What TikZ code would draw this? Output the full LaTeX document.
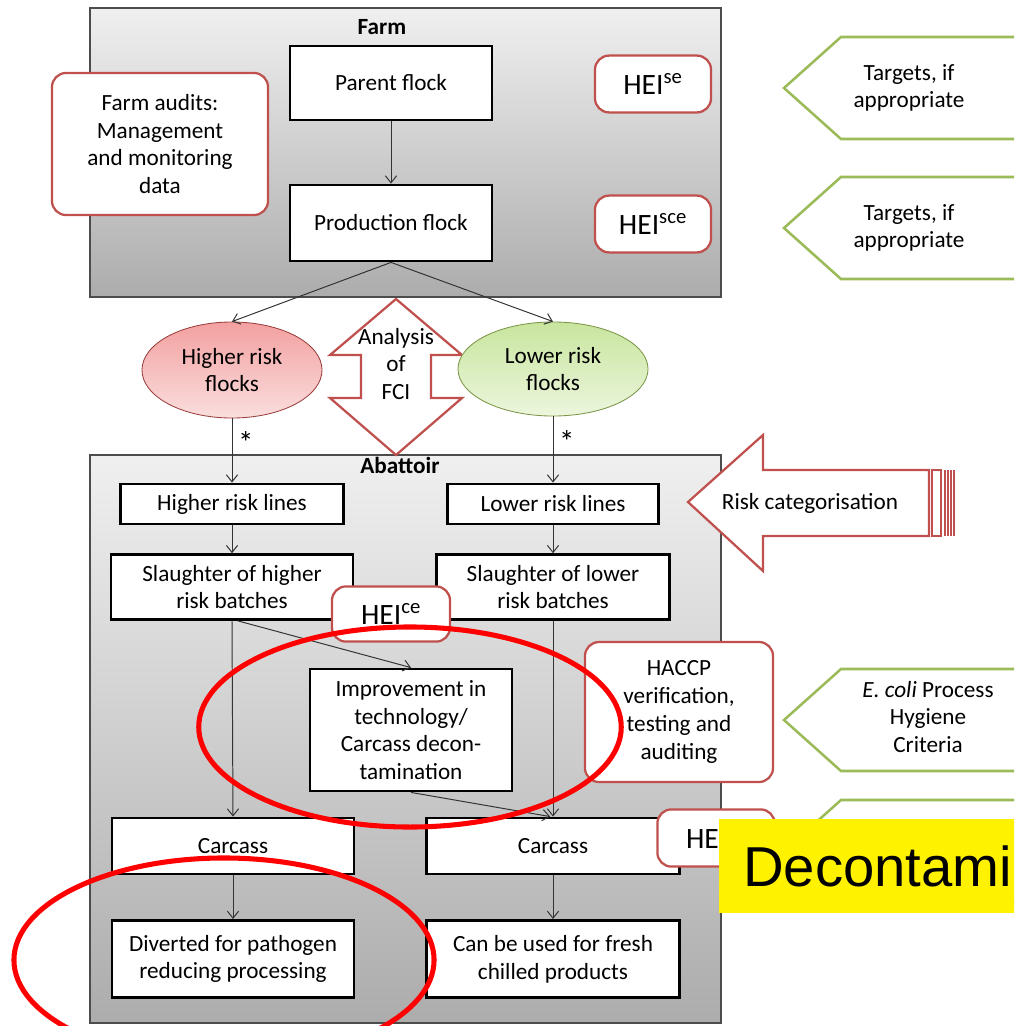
\documentclass[tikz,border=0pt]{standalone}
\usepackage{fontspec}
\setmainfont{Carlito}
\newfontfamily\arialfont{Liberation Sans}
\usepackage{tikz}
\usetikzlibrary{positioning,arrows.meta,shapes.geometric}
\definecolor{notecolor}{HTML}{C0504D}
\definecolor{targetcolor}{HTML}{9BBB59}
\definecolor{highcolor}{HTML}{F3A0A0}
\definecolor{lowcolor}{HTML}{C8E59E}
\definecolor{circlecolor}{HTML}{FF0000}

\begin{document}
\begin{tikzpicture}[x=0.025cm, y=-0.025cm,
    every node/.style={font=\fontsize{16.5}{19.7}\selectfont},
    stagebox/.style={draw=black, line width=2pt, fill=white, align=center, inner sep=2pt},
    notebox/.style={draw=notecolor, line width=1.6pt, fill=white, rounded corners=10pt, align=center},
    heibox/.style={notebox, minimum width=2.9cm, minimum height=1.42cm, font=\fontsize{21}{24}\selectfont},
    flockbox/.style={ellipse, draw, line width=0.6pt, align=center, inner sep=0pt},
    flow/.style={draw=black!80, line width=0.7pt, -{Straight Barb[length=5pt,width=8pt]}},
    target/.style={draw=targetcolor, line width=1.8pt, fill=white},
    bigarrow/.style={draw=notecolor, line width=1.6pt, fill=white, line join=miter},
    stagearea/.style={draw=black!70, line width=0.8pt, top color=gray!12, bottom color=gray!65},
    star/.style={font=\fontsize{22}{22}\selectfont, inner sep=0pt},
    marking/.style={draw=circlecolor, line width=3.6pt}]

    \useasboundingbox (0,0) rectangle (1014,1026);
    \clip (0,0) rectangle (1014,1026);

    % Areas
    \path[stagearea] (90,8) rectangle (721,297);
    \path[stagearea] (90,455) rectangle (721,1023);
    \node[font=\fontsize{16.5}{19.7}\selectfont\bfseries] (farm) at (382,27) {Farm};
    \node[font=\fontsize{16.5}{19.7}\selectfont\bfseries] (abattoir) at (400,465) {Abattoir};

    % Targets
    \foreach \y/\name in {88/tone, 228/ttwo, 720/tthree, 851/tfour} {
        \draw[target] (784,\y) -- (841,\y-51) -- (1030,\y-51) -- (1030,\y+51) -- (841,\y+51) -- cycle;
        \coordinate (\name) at (909,\y);
    }
    \node[align=center] (targetone) at (tone) {Targets, if\\appropriate};
    \node[align=center] (targettwo) at (ttwo) {Targets, if\\appropriate};
    \node[align=center] (ecoli) at (928,717) {\textit{E. coli} Process\\Hygiene\\Criteria};

    % Analysis of FCI
    \draw[bigarrow] (396,299) -- (462,355) -- (431,355) -- (431,398) -- (462,398) -- (396,455)
        -- (330,398) -- (361,398) -- (361,355) -- (330,355) -- cycle;
    \node[align=center] (fci) at (396,364) {Analysis\\of\\FCI};

    % Risk categorisation
    \draw[bigarrow] (688,502) -- (763,435) -- (763,470) -- (929,470) -- (929,536) -- (763,536) -- (763,571) -- cycle;
    \draw[notecolor, line width=1.2pt] (932,470) rectangle (941,536);
    \foreach \x in {945,948,951,954} {
        \draw[notecolor, line width=1.1pt] (\x,470) -- (\x,536);
    }
    \node (riskcat) at (810,503) {Risk categorisation};

    % Farm nodes
    \node[stagebox, minimum width=5.05cm, minimum height=1.85cm] (parent) at (391,83) {Parent flock};
    \node[stagebox, minimum width=5.05cm, minimum height=1.9cm] (production) at (391,223) {Production flock};
    \node[notebox, minimum width=5.4cm, minimum height=3.55cm] (audits) at (160,144) {Farm audits:\\Management\\and monitoring\\data};
    \node[heibox] (heise) at (653,84) {HEI\textsuperscript{se}};
    \node[heibox] (heisce) at (653,224) {HEI\textsuperscript{sce}};

    % Flocks
    \node[flockbox, draw=notecolor!80!black, top color=highcolor, bottom color=highcolor!35!white,
          minimum width=4.5cm, minimum height=2.4cm] (higher) at (232,370) {Higher risk\\flocks};
    \node[flockbox, draw=targetcolor!80!black, top color=lowcolor, bottom color=lowcolor!35!white,
          minimum width=4.75cm, minimum height=2.35cm] (lower) at (553,369) {Lower risk\\flocks};

    % Abattoir nodes
    \node[stagebox, minimum width=5.58cm, minimum height=1.0cm] (hlines) at (232,504) {Higher risk lines};
    \node[stagebox, minimum width=5.28cm, minimum height=1.0cm] (llines) at (553,504) {Lower risk lines};
    \node[stagebox, minimum width=6.05cm, minimum height=1.62cm] (hslaughter) at (232,587) {Slaughter of higher\\risk batches};
    \node[stagebox, minimum width=5.83cm, minimum height=1.62cm] (lslaughter) at (553,587) {Slaughter of lower\\risk batches};
    \node[heibox, minimum width=2.95cm, minimum height=1.38cm] (heice) at (391,614) {HEI\textsuperscript{ce}};
    \node[stagebox, minimum width=5.05cm, minimum height=3.05cm] (improve) at (411,730) {Improvement in\\technology/\\Carcass decon-\\tamination};
    \node[notebox, minimum width=4.7cm, minimum height=3.5cm] (haccp) at (679,712) {HACCP\\verification,\\testing and\\auditing};
    \node[stagebox, minimum width=6.05cm, minimum height=1.4cm] (hcarcass) at (233,846) {Carcass};
    \node[stagebox, minimum width=6.33cm, minimum height=1.4cm] (lcarcass) at (553,846) {Carcass};
    \node[heibox, minimum width=2.93cm, minimum height=1.43cm] (heilast) at (716,838) {HE\phantom{I\textsuperscript{ce}}};
    \node[stagebox, minimum width=6.05cm, minimum height=1.93cm] (diverted) at (233,959) {Diverted for pathogen\\reducing processing};
    \node[stagebox, minimum width=6.33cm, minimum height=1.93cm] (fresh) at (553,959) {Can be used for fresh\\chilled products};

    % Links
    \draw[flow] (parent) -- (production);
    \draw[flow] (production.south) -- (higher.north);
    \draw[flow] (production.south) -- (lower.north);
    \draw[flow] (higher.south) -- node[pos=0.38, right=4pt, star] (hstar) {*} (hlines.north);
    \draw[flow] (lower.south) -- node[pos=0.38, right=4pt, star] (lstar) {*} (llines.north);
    \draw[flow] (hlines) -- (hslaughter);
    \draw[flow] (llines) -- (lslaughter);
    \draw[flow] (hslaughter.south) -- (hcarcass.north);
    \draw[flow] ([xshift=4pt]hslaughter.south) -- (improve.north);
    \draw[flow] (improve.south) -- ([xshift=-2pt]lcarcass.north);
    \draw[flow] (lslaughter.south) -- (lcarcass.north);
    \draw[flow] (hcarcass) -- (diverted);
    \draw[flow] (lcarcass) -- (fresh);

    % Markings
    \draw[marking] (410,727) ellipse [x radius=5.28cm, y radius=2.5cm];
    \draw[marking] (224,960) ellipse [x radius=5.25cm, y radius=2.55cm];

    % Decontamination banner
    \node[fill=yellow, anchor=north west, minimum width=8cm, minimum height=2.35cm,
          text width=7.2cm, inner xsep=0.6cm, align=left] (decon) at (719,819)
          {\arialfont\fontsize{40}{46}\selectfont Decontami};
\end{tikzpicture}
\end{document}
